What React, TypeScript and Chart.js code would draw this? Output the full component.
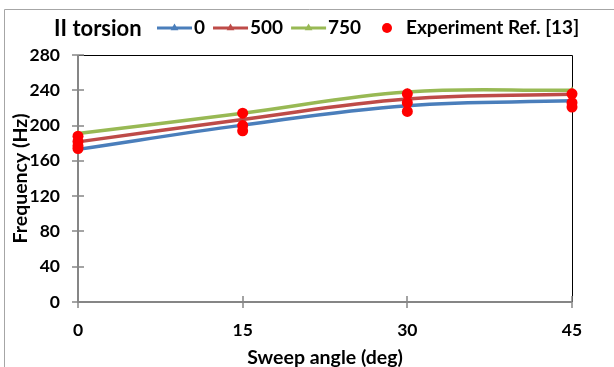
import React, { useEffect, useRef } from "react";
import { Chart, registerables } from "chart.js";

Chart.register(...registerables);

// ---- data ----
const sweepAngles = [0, 15, 30, 45];
const freqRpm0 = [173, 200.5, 222.5, 228];
const freqRpm500 = [181.5, 207, 230, 235.5];
const freqRpm750 = [191, 214, 238, 240];
const expAngles = [0, 0, 0, 0, 15, 15, 15, 30, 30, 30, 45, 45, 45];
const expFreqs = [188, 182, 177, 174, 214, 200, 194, 236, 226, 216, 236, 226, 221];
const seriesNames = ["0", "500", "750"];
const expName = "Experiment Ref. [13]";
const chartTitle = "II torsion";
const xTitle = "Sweep angle (deg)";
const yTitle = "Frequency (Hz)";

const FONT = "Lato";
const COLORS = ["#4A7EBB", "#BE4B48", "#98B954"];
const RED = "#FF0000";

function tri(ctx: CanvasRenderingContext2D, cx: number, cy: number, r: number) {
  const h = r * 1.5;
  const w = r * Math.sqrt(3);
  ctx.beginPath();
  ctx.moveTo(cx, cy - r);
  ctx.lineTo(cx + w / 2, cy - r + h);
  ctx.lineTo(cx - w / 2, cy - r + h);
  ctx.closePath();
  ctx.fill();
}

const framePlugin = {
  id: "frame",
  beforeDraw(chart: any) {
    const { ctx } = chart;
    ctx.save();
    ctx.strokeStyle = "#a6a6a6";
    ctx.lineWidth = 1;
    ctx.beginPath();
    ctx.moveTo(4.5, chart.height);
    ctx.lineTo(4.5, 9.5);
    ctx.lineTo(chart.width, 9.5);
    ctx.stroke();
    ctx.restore();
  },
  beforeDatasetsDraw(chart: any) {
    const { ctx, chartArea } = chart;
    const { left, right, top, bottom } = chartArea;
    const xs = chart.scales.x;
    const ys = chart.scales.y;
    ctx.save();
    ctx.strokeStyle = "#000";
    ctx.lineWidth = 1;
    ctx.beginPath();
    ctx.moveTo(left, top + 0.5);
    ctx.lineTo(right + 0.5, top + 0.5);
    ctx.lineTo(right + 0.5, bottom);
    ctx.stroke();
    ctx.strokeStyle = "#868686";
    ctx.lineWidth = 2;
    ctx.beginPath();
    ctx.moveTo(left, top);
    ctx.lineTo(left, bottom);
    ctx.lineTo(right, bottom);
    ctx.stroke();
    ctx.lineWidth = 1.5;
    ctx.beginPath();
    ys.ticks.forEach((t: any) => {
      const py = Math.round(ys.getPixelForValue(t.value));
      ctx.moveTo(left - 6, py);
      ctx.lineTo(left + 6, py);
    });
    xs.ticks.forEach((t: any) => {
      const px = Math.round(xs.getPixelForValue(t.value));
      ctx.moveTo(px, bottom - 6);
      ctx.lineTo(px, bottom + 6);
    });
    ctx.stroke();
    ctx.restore();
  },
};

const legendPlugin = {
  id: "customLegend",
  afterDraw(chart: any) {
    const { ctx } = chart;
    ctx.save();
    ctx.fillStyle = "#000";
    ctx.textBaseline = "middle";
    ctx.textAlign = "left";
    ctx.font = `bold 22px ${FONT}`;
    const cy = 28;
    ctx.fillText(chartTitle, 54, cy + 1);
    ctx.font = `bold 19px ${FONT}`;
    let x = 157;
    seriesNames.forEach((name, i) => {
      const len = 35;
      ctx.strokeStyle = COLORS[i];
      ctx.fillStyle = COLORS[i];
      ctx.lineWidth = 3;
      ctx.beginPath();
      ctx.moveTo(x, cy);
      ctx.lineTo(x + len, cy);
      ctx.stroke();
      tri(ctx, x + len / 2, cy, 4.5);
      ctx.fillStyle = "#000";
      ctx.fillText(name, x + len + 2, cy);
      x += len + 2 + ctx.measureText(name).width + 8;
    });
    ctx.fillStyle = RED;
    ctx.beginPath();
    ctx.arc(387, cy, 5, 0, Math.PI * 2);
    ctx.fill();
    ctx.fillStyle = "#000";
    ctx.fillText(expName, 406, cy);
    ctx.restore();
  },
};

export default function App() {
  const ref = useRef<HTMLCanvasElement>(null);
  useEffect(() => {
    if (!ref.current) return;
    const lineSets = [freqRpm0, freqRpm500, freqRpm750].map((vals, i) => ({
      type: "line" as const,
      label: seriesNames[i],
      data: sweepAngles.map((a, j) => ({ x: a, y: vals[j] })),
      borderColor: COLORS[i],
      backgroundColor: COLORS[i],
      borderWidth: 3.5,
      tension: 0.4,
      pointStyle: "triangle",
      pointRadius: 4,
      pointBorderWidth: 0,
      order: 3 - i,
      clip: false as any,
    }));
    const chart = new Chart(ref.current, {
      type: "line",
      data: {
        datasets: [
          ...lineSets,
          {
            type: "scatter" as any,
            label: expName,
            data: expAngles.map((a, j) => ({ x: a, y: expFreqs[j] })),
            backgroundColor: RED,
            borderColor: RED,
            pointRadius: 5.5,
            pointBorderWidth: 0,
            showLine: false,
            order: 0,
            clip: false as any,
          } as any,
        ],
      },
      options: {
        animation: false,
        responsive: false,
        devicePixelRatio: 1,
        layout: { padding: { top: 55, right: 42, left: 0, bottom: 0 } },
        plugins: { legend: { display: false }, tooltip: { enabled: false } },
        scales: {
          x: {
            type: "linear",
            min: 0,
            max: 45,
            ticks: {
              stepSize: 15,
              padding: 18,
              color: "#000",
              font: { family: FONT, size: 17.5, weight: "bold" },
            },
            grid: { display: false, drawTicks: false },
            border: { display: false },
            title: {
              display: true,
              text: xTitle,
              color: "#000",
              font: { family: FONT, size: 19.5, weight: "bold", lineHeight: 1 },
              padding: { top: 0, bottom: 0 },
            },
            afterFit: (s: any) => {
              s.height = 65;
            },
          },
          y: {
            min: 0,
            max: 280,
            ticks: {
              stepSize: 40,
              padding: 18,
              color: "#000",
              font: { family: FONT, size: 17.5, weight: "bold" },
            },
            grid: { display: false, drawTicks: false },
            border: { display: false },
            title: {
              display: true,
              text: yTitle,
              color: "#000",
              font: { family: FONT, size: 19.5, weight: "bold", lineHeight: 1 },
              padding: { top: 11, bottom: 0 },
            },
            afterFit: (s: any) => {
              s.width = 78;
            },
          },
        },
      },
      plugins: [framePlugin, legendPlugin],
    });
    return () => chart.destroy();
  }, []);
  return (
    <div style={{ position: "absolute", left: 0, top: 0, width: 614, height: 367, background: "#fff" }}>
      <canvas ref={ref} width={614} height={367} />
    </div>
  );
}
